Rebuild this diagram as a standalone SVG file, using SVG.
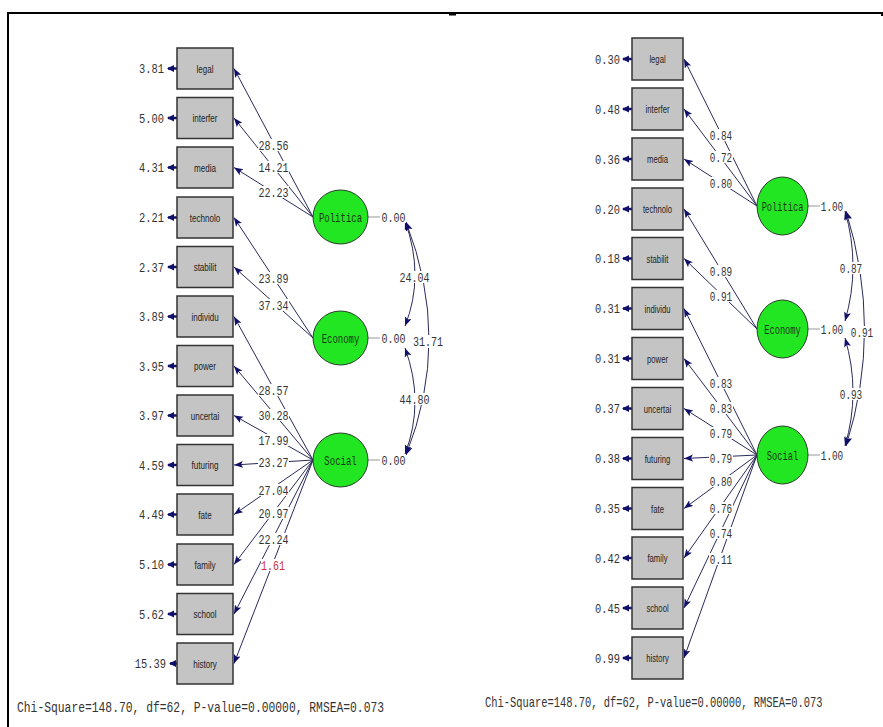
<svg xmlns="http://www.w3.org/2000/svg" width="883" height="727" viewBox="0 0 883 727">
<style>
.box{fill:#c4c4c4;stroke:#333;stroke-width:1.5}
.lat{fill:#22e622;stroke:#2a3a2a;stroke-width:1}
.bl{font-family:"Liberation Sans",Arial,sans-serif;font-size:11px;fill:#222;text-anchor:middle}
.n{font-family:"Liberation Mono","Courier New",monospace;font-size:13px;fill:#333}
.m{text-anchor:middle}
.e{text-anchor:end}
.ll{font-family:"Liberation Mono","Courier New",monospace;font-size:13px;fill:#1a3a1a;text-anchor:middle}
.chi{font-family:"Liberation Mono","Courier New",monospace;fill:#333}
.c{fill:none;stroke:#2a2a5a;stroke-width:1;marker-end:url(#ah)}
.arc{fill:none;stroke:#2a2a5a;stroke-width:1;marker-start:url(#ah2);marker-end:url(#ah2)}
.er{stroke:#10106a;stroke-width:2.5;marker-end:url(#ahe)}
.v{stroke:#999;stroke-width:1}
.bg{fill:#fff}
.red{fill:#cc3333}
</style>
<defs>
<marker id="ah" markerUnits="userSpaceOnUse" markerWidth="10" markerHeight="8" refX="9" refY="3.5" orient="auto"><path d="M0,0 L9,3.5 L0,7 L2,3.5 z" fill="#10106a"/></marker>
<marker id="ah2" markerUnits="userSpaceOnUse" markerWidth="10" markerHeight="8" refX="9" refY="3.5" orient="auto-start-reverse"><path d="M0,0 L9,3.5 L0,7 L2,3.5 z" fill="#10106a"/></marker>
<marker id="ahe" markerUnits="userSpaceOnUse" markerWidth="8" markerHeight="8" refX="6" refY="3.5" orient="auto"><path d="M0,0 L7,3.5 L0,7 z" fill="#10106a"/></marker>
</defs>
<rect width="883" height="727" fill="#fff"/>
<path d="M8,727 V13 H882 V16" fill="none" stroke="#000" stroke-width="2"/>
<rect x="449" y="13" width="7" height="2.5" fill="#000"/>

<g id="connectors">
<line class="c" x1="313" y1="217" x2="234" y2="68.5"/>
<line class="c" x1="313" y1="217" x2="234" y2="118"/>
<line class="c" x1="313" y1="217" x2="234" y2="167.5"/>
<line class="c" x1="313" y1="338" x2="234" y2="217.5"/>
<line class="c" x1="313" y1="338" x2="234" y2="267"/>
<line class="c" x1="313" y1="460" x2="234" y2="316.5"/>
<line class="c" x1="313" y1="460" x2="234" y2="366"/>
<line class="c" x1="313" y1="460" x2="234" y2="415.5"/>
<line class="c" x1="313" y1="460" x2="234" y2="465"/>
<line class="c" x1="313" y1="460" x2="234" y2="514.5"/>
<line class="c" x1="313" y1="460" x2="234" y2="564.5"/>
<line class="c" x1="313" y1="460" x2="234" y2="614"/>
<line class="c" x1="313" y1="460" x2="234" y2="663.5"/>
<line class="er" x1="177" y1="68.5" x2="168" y2="68.5"/>
<line class="er" x1="177" y1="118" x2="168" y2="118"/>
<line class="er" x1="177" y1="167.5" x2="168" y2="167.5"/>
<line class="er" x1="177" y1="217.5" x2="168" y2="217.5"/>
<line class="er" x1="177" y1="267" x2="168" y2="267"/>
<line class="er" x1="177" y1="316.5" x2="168" y2="316.5"/>
<line class="er" x1="177" y1="366" x2="168" y2="366"/>
<line class="er" x1="177" y1="415.5" x2="168" y2="415.5"/>
<line class="er" x1="177" y1="465" x2="168" y2="465"/>
<line class="er" x1="177" y1="514.5" x2="168" y2="514.5"/>
<line class="er" x1="177" y1="564.5" x2="168" y2="564.5"/>
<line class="er" x1="177" y1="614" x2="168" y2="614"/>
<line class="er" x1="177" y1="663.5" x2="170" y2="663.5"/>
<line class="v" x1="368" y1="217" x2="380" y2="217"/>
<line class="v" x1="368" y1="338" x2="380" y2="338"/>
<line class="v" x1="368" y1="460" x2="380" y2="460"/>
<path class="arc" d="M405,221 Q425,276 405,326"/>
<path class="arc" d="M406,222 Q452,340 406,455"/>
<path class="arc" d="M405,348 Q425,402 405,454"/>
<line class="c" x1="757" y1="206" x2="684" y2="59"/>
<line class="c" x1="757" y1="206" x2="684" y2="109"/>
<line class="c" x1="757" y1="206" x2="684" y2="159"/>
<line class="c" x1="757" y1="329" x2="684" y2="209"/>
<line class="c" x1="757" y1="329" x2="684" y2="258.5"/>
<line class="c" x1="757" y1="455" x2="684" y2="308.5"/>
<line class="c" x1="757" y1="455" x2="684" y2="358.5"/>
<line class="c" x1="757" y1="455" x2="684" y2="408.5"/>
<line class="c" x1="757" y1="455" x2="684" y2="458.5"/>
<line class="c" x1="757" y1="455" x2="684" y2="508.5"/>
<line class="c" x1="757" y1="455" x2="684" y2="558"/>
<line class="c" x1="757" y1="455" x2="684" y2="608"/>
<line class="c" x1="757" y1="455" x2="684" y2="658"/>
<line class="er" x1="632" y1="59" x2="623" y2="59"/>
<line class="er" x1="632" y1="109" x2="623" y2="109"/>
<line class="er" x1="632" y1="159" x2="623" y2="159"/>
<line class="er" x1="632" y1="209" x2="623" y2="209"/>
<line class="er" x1="632" y1="258.5" x2="623" y2="258.5"/>
<line class="er" x1="632" y1="308.5" x2="623" y2="308.5"/>
<line class="er" x1="632" y1="358.5" x2="623" y2="358.5"/>
<line class="er" x1="632" y1="408.5" x2="623" y2="408.5"/>
<line class="er" x1="632" y1="458.5" x2="623" y2="458.5"/>
<line class="er" x1="632" y1="508.5" x2="623" y2="508.5"/>
<line class="er" x1="632" y1="558" x2="623" y2="558"/>
<line class="er" x1="632" y1="608" x2="623" y2="608"/>
<line class="er" x1="632" y1="658" x2="623" y2="658"/>
<line class="v" x1="808" y1="206" x2="820" y2="206"/>
<line class="v" x1="808" y1="329" x2="820" y2="329"/>
<line class="v" x1="808" y1="455" x2="820" y2="455"/>
<path class="arc" d="M845,211 Q861,266 845,321"/>
<path class="arc" d="M846,211 Q883,330 846,446"/>
<path class="arc" d="M845,338 Q861,392 845,446"/>
</g>

<g id="path-labels">
<g class="bg">
<rect x="258" y="139" width="31" height="12"/><rect x="258" y="161" width="31" height="12"/><rect x="258" y="186" width="31" height="12"/>
<rect x="258" y="272" width="31" height="12"/><rect x="258" y="299" width="31" height="12"/>
<rect x="258" y="384" width="31" height="12"/><rect x="258" y="409" width="31" height="12"/><rect x="258" y="434" width="31" height="12"/><rect x="258" y="456" width="31" height="12"/><rect x="258" y="484" width="31" height="12"/><rect x="258" y="507" width="31" height="12"/><rect x="258" y="533" width="31" height="12"/><rect x="261" y="559" width="24" height="12"/>
<rect x="381" y="211" width="25" height="12"/><rect x="381" y="332" width="25" height="12"/><rect x="381" y="454" width="25" height="12"/>
<rect x="400" y="271" width="30" height="12"/><rect x="414" y="335" width="28" height="13"/><rect x="400" y="393" width="30" height="12"/>
<rect x="709" y="129" width="24" height="12"/><rect x="709" y="151" width="24" height="12"/><rect x="709" y="177" width="24" height="12"/>
<rect x="709" y="265" width="24" height="12"/><rect x="709" y="290" width="24" height="12"/>
<rect x="709" y="377" width="24" height="12"/><rect x="709" y="402" width="24" height="12"/><rect x="709" y="427" width="24" height="12"/><rect x="709" y="452" width="24" height="12"/><rect x="709" y="475" width="24" height="12"/><rect x="709" y="502" width="24" height="12"/><rect x="709" y="527" width="24" height="12"/><rect x="709" y="553" width="24" height="12"/>
<rect x="821" y="200" width="22" height="12"/><rect x="821" y="323" width="22" height="12"/><rect x="821" y="449" width="22" height="12"/>
<rect x="840" y="262" width="23" height="12"/><rect x="851" y="326" width="23" height="12"/><rect x="840" y="388" width="23" height="12"/>
</g>
<text class="n m" transform="translate(273.5 149.5) scale(.77 1)">28.56</text>
<text class="n m" transform="translate(273.5 171.5) scale(.77 1)">14.21</text>
<text class="n m" transform="translate(273.5 196.5) scale(.77 1)">22.23</text>
<text class="n m" transform="translate(273.5 282.5) scale(.77 1)">23.89</text>
<text class="n m" transform="translate(273.5 309.5) scale(.77 1)">37.34</text>
<text class="n m" transform="translate(273.5 394.5) scale(.77 1)">28.57</text>
<text class="n m" transform="translate(273.5 419.5) scale(.77 1)">30.28</text>
<text class="n m" transform="translate(273.5 444.5) scale(.77 1)">17.99</text>
<text class="n m" transform="translate(273.5 466.5) scale(.77 1)">23.27</text>
<text class="n m" transform="translate(273.5 494.5) scale(.77 1)">27.04</text>
<text class="n m" transform="translate(273.5 517.5) scale(.77 1)">20.97</text>
<text class="n m" transform="translate(273.5 543.5) scale(.77 1)">22.24</text>
<text class="n m red" transform="translate(273 569.5) scale(.77 1)">1.61</text>
<text class="n m" transform="translate(393.5 221.5) scale(.77 1)">0.00</text>
<text class="n m" transform="translate(393.5 342.5) scale(.77 1)">0.00</text>
<text class="n m" transform="translate(393.5 464.5) scale(.77 1)">0.00</text>
<text class="n m" transform="translate(414.5 281.5) scale(.77 1)">24.04</text>
<text class="n m" transform="translate(428 346) scale(.77 1)">31.71</text>
<text class="n m" transform="translate(414.5 403.5) scale(.77 1)">44.80</text>
<text class="n m" transform="translate(721 139.5) scale(.72 1)">0.84</text>
<text class="n m" transform="translate(721 161.5) scale(.72 1)">0.72</text>
<text class="n m" transform="translate(721 187.5) scale(.72 1)">0.80</text>
<text class="n m" transform="translate(721 275.5) scale(.72 1)">0.89</text>
<text class="n m" transform="translate(721 300.5) scale(.72 1)">0.91</text>
<text class="n m" transform="translate(721 387.5) scale(.72 1)">0.83</text>
<text class="n m" transform="translate(721 412.5) scale(.72 1)">0.83</text>
<text class="n m" transform="translate(721 437.5) scale(.72 1)">0.79</text>
<text class="n m" transform="translate(721 462.5) scale(.72 1)">0.79</text>
<text class="n m" transform="translate(721 485.5) scale(.72 1)">0.80</text>
<text class="n m" transform="translate(721 512.5) scale(.72 1)">0.76</text>
<text class="n m" transform="translate(721 537.5) scale(.72 1)">0.74</text>
<text class="n m" transform="translate(721 563.5) scale(.72 1)">0.11</text>
<text class="n m" transform="translate(832 210.5) scale(.72 1)">1.00</text>
<text class="n m" transform="translate(832 333.5) scale(.72 1)">1.00</text>
<text class="n m" transform="translate(832 459.5) scale(.72 1)">1.00</text>
<text class="n m" transform="translate(851 272.5) scale(.72 1)">0.87</text>
<text class="n m" transform="translate(862 336.5) scale(.72 1)">0.91</text>
<text class="n m" transform="translate(851 398.5) scale(.72 1)">0.93</text>
</g>

<g id="L-legal"><rect class="box" x="177" y="48" width="56" height="41"/><text class="bl" transform="translate(205 72.5) scale(.73 1)">legal</text><text class="n e" transform="translate(164 73) scale(.8 1)">3.81</text></g>
<g id="L-interfer"><rect class="box" x="177" y="97.5" width="56" height="41"/><text class="bl" transform="translate(205 122) scale(.73 1)">interfer</text><text class="n e" transform="translate(164 122.5) scale(.8 1)">5.00</text></g>
<g id="L-media"><rect class="box" x="177" y="147" width="56" height="41"/><text class="bl" transform="translate(205 171.5) scale(.73 1)">media</text><text class="n e" transform="translate(164 172) scale(.8 1)">4.31</text></g>
<g id="L-technolo"><rect class="box" x="177" y="197" width="56" height="41"/><text class="bl" transform="translate(205 221.5) scale(.73 1)">technolo</text><text class="n e" transform="translate(164 222) scale(.8 1)">2.21</text></g>
<g id="L-stabilit"><rect class="box" x="177" y="246.5" width="56" height="41"/><text class="bl" transform="translate(205 271) scale(.73 1)">stabilit</text><text class="n e" transform="translate(164 271.5) scale(.8 1)">2.37</text></g>
<g id="L-individu"><rect class="box" x="177" y="296" width="56" height="41"/><text class="bl" transform="translate(205 320.5) scale(.73 1)">individu</text><text class="n e" transform="translate(164 321) scale(.8 1)">3.89</text></g>
<g id="L-power"><rect class="box" x="177" y="345.5" width="56" height="41"/><text class="bl" transform="translate(205 370) scale(.73 1)">power</text><text class="n e" transform="translate(164 370.5) scale(.8 1)">3.95</text></g>
<g id="L-uncertai"><rect class="box" x="177" y="395" width="56" height="41"/><text class="bl" transform="translate(205 419.5) scale(.73 1)">uncertai</text><text class="n e" transform="translate(164 420) scale(.8 1)">3.97</text></g>
<g id="L-futuring"><rect class="box" x="177" y="444.5" width="56" height="41"/><text class="bl" transform="translate(205 469) scale(.73 1)">futuring</text><text class="n e" transform="translate(164 469.5) scale(.8 1)">4.59</text></g>
<g id="L-fate"><rect class="box" x="177" y="494" width="56" height="41"/><text class="bl" transform="translate(205 518.5) scale(.73 1)">fate</text><text class="n e" transform="translate(164 519) scale(.8 1)">4.49</text></g>
<g id="L-family"><rect class="box" x="177" y="544" width="56" height="41"/><text class="bl" transform="translate(205 568.5) scale(.73 1)">family</text><text class="n e" transform="translate(164 569) scale(.8 1)">5.10</text></g>
<g id="L-school"><rect class="box" x="177" y="593.5" width="56" height="41"/><text class="bl" transform="translate(205 618) scale(.73 1)">school</text><text class="n e" transform="translate(164 618.5) scale(.8 1)">5.62</text></g>
<g id="L-history"><rect class="box" x="177" y="643" width="56" height="41"/><text class="bl" transform="translate(205 667.5) scale(.73 1)">history</text><text class="n e" transform="translate(166 668) scale(.8 1)">15.39</text></g>

<g id="L-Politica"><ellipse class="lat" cx="340.5" cy="217" rx="27.5" ry="27"/><text class="ll" transform="translate(340.5 221.5) scale(.69 1)">Politica</text></g>
<g id="L-Economy"><ellipse class="lat" cx="340.5" cy="338" rx="27.5" ry="27"/><text class="ll" transform="translate(340.5 342.5) scale(.69 1)">Economy</text></g>
<g id="L-Social"><ellipse class="lat" cx="340.5" cy="460" rx="27.5" ry="27"/><text class="ll" transform="translate(340.5 464.5) scale(.69 1)">Social</text></g>

<g id="R-legal"><rect class="box" x="632" y="38" width="51" height="42"/><text class="bl" transform="translate(657.5 63) scale(.7 1)">legal</text><text class="n e" transform="translate(620 63.5) scale(.8 1)">0.30</text></g>
<g id="R-interfer"><rect class="box" x="632" y="88" width="51" height="42"/><text class="bl" transform="translate(657.5 113) scale(.7 1)">interfer</text><text class="n e" transform="translate(620 113.5) scale(.8 1)">0.48</text></g>
<g id="R-media"><rect class="box" x="632" y="138" width="51" height="42"/><text class="bl" transform="translate(657.5 163) scale(.7 1)">media</text><text class="n e" transform="translate(620 163.5) scale(.8 1)">0.36</text></g>
<g id="R-technolo"><rect class="box" x="632" y="188" width="51" height="42"/><text class="bl" transform="translate(657.5 213) scale(.7 1)">technolo</text><text class="n e" transform="translate(620 213.5) scale(.8 1)">0.20</text></g>
<g id="R-stabilit"><rect class="box" x="632" y="237.5" width="51" height="42"/><text class="bl" transform="translate(657.5 262.5) scale(.7 1)">stabilit</text><text class="n e" transform="translate(620 263) scale(.8 1)">0.18</text></g>
<g id="R-individu"><rect class="box" x="632" y="287.5" width="51" height="42"/><text class="bl" transform="translate(657.5 312.5) scale(.7 1)">individu</text><text class="n e" transform="translate(620 313) scale(.8 1)">0.31</text></g>
<g id="R-power"><rect class="box" x="632" y="337.5" width="51" height="42"/><text class="bl" transform="translate(657.5 362.5) scale(.7 1)">power</text><text class="n e" transform="translate(620 363) scale(.8 1)">0.31</text></g>
<g id="R-uncertai"><rect class="box" x="632" y="387.5" width="51" height="42"/><text class="bl" transform="translate(657.5 412.5) scale(.7 1)">uncertai</text><text class="n e" transform="translate(620 413) scale(.8 1)">0.37</text></g>
<g id="R-futuring"><rect class="box" x="632" y="437.5" width="51" height="42"/><text class="bl" transform="translate(657.5 462.5) scale(.7 1)">futuring</text><text class="n e" transform="translate(620 463) scale(.8 1)">0.38</text></g>
<g id="R-fate"><rect class="box" x="632" y="487.5" width="51" height="42"/><text class="bl" transform="translate(657.5 512.5) scale(.7 1)">fate</text><text class="n e" transform="translate(620 513) scale(.8 1)">0.35</text></g>
<g id="R-family"><rect class="box" x="632" y="537" width="51" height="42"/><text class="bl" transform="translate(657.5 562) scale(.7 1)">family</text><text class="n e" transform="translate(620 562.5) scale(.8 1)">0.42</text></g>
<g id="R-school"><rect class="box" x="632" y="587" width="51" height="42"/><text class="bl" transform="translate(657.5 612) scale(.7 1)">school</text><text class="n e" transform="translate(620 612.5) scale(.8 1)">0.45</text></g>
<g id="R-history"><rect class="box" x="632" y="637" width="51" height="42"/><text class="bl" transform="translate(657.5 662) scale(.7 1)">history</text><text class="n e" transform="translate(620 662.5) scale(.8 1)">0.99</text></g>

<g id="R-Politica"><ellipse class="lat" cx="782.5" cy="206" rx="25.5" ry="29"/><text class="ll" transform="translate(782.5 210.5) scale(.67 1)">Politica</text></g>
<g id="R-Economy"><ellipse class="lat" cx="782.5" cy="329" rx="25.5" ry="29"/><text class="ll" transform="translate(782.5 333.5) scale(.67 1)">Economy</text></g>
<g id="R-Social"><ellipse class="lat" cx="782.5" cy="455" rx="25.5" ry="29"/><text class="ll" transform="translate(782.5 459.5) scale(.67 1)">Social</text></g>

<g id="fit-stats">
<text class="chi" font-size="15" transform="translate(17 712) scale(.756 1)">Chi-Square=148.70, df=62, P-value=0.00000, RMSEA=0.073</text>
<text class="chi" font-size="14" transform="translate(485 707) scale(.745 1)">Chi-Square=148.70, df=62, P-value=0.00000, RMSEA=0.073</text>
</g>
</svg>
